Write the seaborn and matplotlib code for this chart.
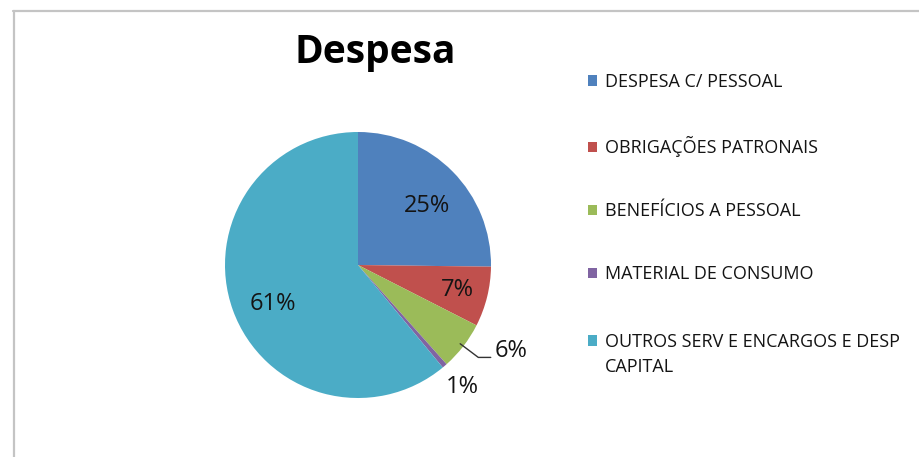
import numpy as np
import matplotlib
matplotlib.use("Agg")
import matplotlib.pyplot as plt
import seaborn as sns
from matplotlib.lines import Line2D
from matplotlib.text import Annotation

# ==========================================
# DATA
# ==========================================
categories = [
    "DESPESA C/ PESSOAL",
    "OBRIGAÇÕES PATRONAIS",
    "BENEFÍCIOS A PESSOAL",
    "MATERIAL DE CONSUMO",
    "OUTROS SERV E ENCARGOS E DESP",
]
extra_line = "CAPITAL"          # second line of the last legend entry
shares = [25.2, 7.3, 5.9, 0.6, 61.0]
pct_labels = ["25%", "7%", "6%", "1%", "61%"]
colors = ["#4F81BD", "#C0504D", "#9BBB59", "#8064A2", "#4BACC6"]

# ==========================================
# STYLE
# ==========================================
sns.set_theme(style="white")
plt.rcParams["font.family"] = ["Open Sans", "DejaVu Sans"]
palette = sns.color_palette(colors)
TXT_COL = "#141414"

W, H = 920, 457
fig = plt.figure(figsize=(W / 100, H / 100), dpi=100)
fig.patch.set_facecolor("white")

# chart frame (top + left edge visible in the reference)
frame_col = "#c4c4c4"
fig.add_artist(Line2D([13 / W, 1], [1 - 11 / H, 1 - 11 / H], color=frame_col, lw=1.6))
fig.add_artist(Line2D([14 / W, 14 / W], [0, 1 - 11 / H], color=frame_col, lw=1.6))

# pie axes: centre (358, 265), radius 133 px
cx, cy, r = 358, 265, 133
ax = fig.add_axes([(cx - r) / W, (H - cy - r) / H, 2 * r / W, 2 * r / H])
wedges, _ = ax.pie(
    shares,
    colors=palette,
    startangle=90,
    counterclock=False,
    radius=1,
    wedgeprops=dict(linewidth=0),
)
ax.set_xlim(-1, 1)
ax.set_ylim(-1, 1)
ax.set_aspect("equal")
ax.axis("off")

# ==========================================
# DATA LABELS
# ==========================================
LBL_SIZE = 17
label_dist = [0.69, 0.77, None, 1.2, 0.71]
label_nudge = [(3, -4), (0, 0), None, (0, -1), (3, -5)]   # points
for i, (w, txt) in enumerate(zip(wedges, pct_labels)):
    mid = np.deg2rad((w.theta1 + w.theta2) / 2)
    if i == 2:
        # outside label with leader line
        ax.annotate(
            txt, xy=(np.cos(mid) * 0.97, np.sin(mid) * 0.97),
            xytext=(25, -5), textcoords="offset points",
            ha="left", va="center", fontsize=LBL_SIZE, color=TXT_COL,
            arrowprops=dict(arrowstyle="-", color="#333333", lw=1.0,
                            patchA=None, shrinkA=3, shrinkB=0,
                            relpos=(0, 0.22),
                            connectionstyle="angle,angleA=0,angleB=-37"),
        )
        continue
    d = label_dist[i]
    ax.annotate(txt, xy=(np.cos(mid) * d, np.sin(mid) * d),
                xytext=label_nudge[i], textcoords="offset points",
                ha="center", va="center", fontsize=LBL_SIZE, color=TXT_COL)

# ==========================================
# TITLE + LEGEND
# ==========================================
fig.text(375 / W, 1 - 52 / H, "Despesa", ha="center", va="center",
         fontsize=28, fontweight="bold", color="black")

LEG_SIZE = 13
leg_kw = dict(loc="upper left", frameon=False, borderpad=0, borderaxespad=0,
              fontsize=LEG_SIZE, handlelength=0.5, handleheight=0.5,
              handletextpad=0.45, labelspacing=2.5)

# first four entries, then the two-line entry a bit further down (as in Excel)
leg1 = fig.legend(wedges[:4], categories[:4],
                  bbox_to_anchor=(588 / W, 1 - 73 / H), **leg_kw)
leg2 = fig.legend(wedges[4:], categories[4:],
                  bbox_to_anchor=(588 / W, 1 - 333 / H), **leg_kw)
for t in leg1.get_texts() + leg2.get_texts():
    t.set_color(TXT_COL)

# second line of the last entry, hung under its first line
last = leg2.get_texts()[-1]
cap = Annotation(extra_line, xy=(0, 0), xycoords=last, xytext=(0, -5),
                 textcoords="offset points", ha="left", va="top",
                 fontsize=LEG_SIZE, color=TXT_COL, annotation_clip=False)
cap.set_zorder(10)
fig.add_artist(cap)

plt.savefig("out.png", dpi=100, facecolor="white")
